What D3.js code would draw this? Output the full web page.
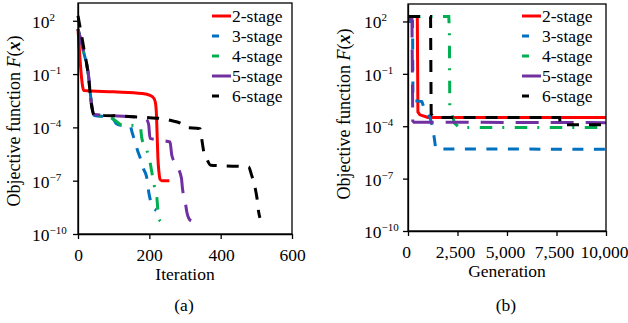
<!DOCTYPE html>
<html>
<head>
<meta charset="utf-8">
<script src="https://cdn.jsdelivr.net/npm/d3@7"></script>
<style>
  body { margin: 0; background: #fff; }
  svg { display: block; }
  svg text { font-family: "Liberation Serif", "Times New Roman", serif; }
</style>
</head>
<body>
<script>
// ---- data ----
const stageNames = ["2-stage", "3-stage", "4-stage", "5-stage", "6-stage"];

// (a) objective value vs iteration, [iteration, F(x)]
const iterStage2 = [[0, 35], [4, 2], [9, 0.1], [13, 0.02], [16, 1.2e-2], [100, 1e-2], [180, 8e-3], [202, 6.3e-3],
  [212, 4.5e-3], [217, 2.5e-3], [220, 5e-4], [222, 3e-5], [224, 2e-6], [227, 3e-7], [230, 1.2e-7], [235, 1e-7], [256, 1e-7]];
const iterStage3 = [[0, 34], [15, 2], [29, 0.1], [38, 2e-3], [46, 4.7e-4], [85, 3.8e-4], [100, 2.7e-4], [108, 1.6e-4],
  [120, 1.3e-4], [146, 1.25e-4], [152, 5e-5], [160, 1.5e-5], [167, 5e-6], [175, 1.8e-6], [183, 5e-7], [193, 1.4e-7],
  [198, 2.5e-8], [203, 8e-9], [210, 3e-9], [220, 2.2e-9]];
const iterStage4 = [[0, 34], [15, 2], [29, 0.1], [38, 2e-3], [46, 4.7e-4], [90, 3.6e-4], [110, 2e-4], [118, 1.5e-4],
  [150, 1.3e-4], [174, 1.25e-4], [179, 2.4e-5], [193, 5e-6], [202, 1.1e-6], [207, 3e-7], [214, 5e-8], [221, 1.2e-8],
  [226, 8e-10], [232, 5e-10], [238, 4.5e-10]];
const iterStage5 = [[0, 34], [15, 2], [29, 0.1], [38, 2e-3], [46, 5.4e-4], [100, 4.5e-4], [174, 3.6e-4], [192, 2.8e-4],
  [198, 1.5e-4], [202, 2.4e-5], [230, 1.9e-5], [258, 1.5e-5], [263, 2.7e-6], [275, 8e-7], [290, 1.4e-7], [293, 3.5e-8],
  [300, 8e-9], [305, 1.8e-9], [310, 8e-10], [317, 5.5e-10]];
const iterStage6 = [[0, 190], [15, 4], [29, 0.083], [38, 1.7e-3], [46, 4.7e-4], [100, 4.5e-4], [200, 3.5e-4], [230, 3.2e-4],
  [258, 2.5e-4], [290, 1.6e-4], [300, 1e-4], [342, 8.5e-5], [346, 3e-5], [352, 5e-6], [362, 1.5e-6], [372, 7.5e-7],
  [445, 6.5e-7], [478, 6e-7], [487, 2e-7], [496, 4.5e-8], [502, 1e-8], [506, 2e-9], [510, 8e-10]];

// (b) objective value vs generation, [generation, F(x)]
const genStage2 = [[0, 190], [470, 190], [500, 6.6e-4], [600, 4.5e-4], [900, 3.5e-4], [1000, 3.2e-4], [10000, 3.2e-4]];
const genStage3 = [[0, 100], [230, 100], [250, 3e-3], [700, 2.6e-3], [900, 6e-4], [1100, 3.5e-4], [1250, 8e-5],
  [1330, 2e-5], [1400, 5e-6], [10000, 4.8e-6]];
const genStage4 = [[0, 190], [2060, 190], [2090, 30], [2110, 1e-3], [2200, 5.7e-4], [2350, 1.5e-4], [2600, 8.5e-5],
  [10000, 8.5e-5]];
const genStage5 = [[0, 150], [200, 150], [240, 2e-4], [300, 1.7e-4], [10000, 1.6e-4]];
const genStage6 = [[0, 190], [1140, 190], [1170, 5e-4], [1300, 3.2e-4], [7650, 3.2e-4], [7700, 1.2e-4], [10000, 1.2e-4]];

const yTicks = [1e-10, 1e-7, 1e-4, 1e-1, 1e2];
const iterTicks = [0, 200, 400, 600];
const genTicks = [0, 2500, 5000, 7500, 10000];

// ---- styles ----
const colors = ["#ff0000", "#0070c0", "#00b050", "#7030a0", "#000000"];
const dashes = [null, "11,10.5", "12.5,10,2,10.5", "23,12", "12,10"];
const legendDashes = [null, "7,30", "7,30", "19,10", "7,30"];

const width = 628, height = 323;
const svg = d3.select("body").append("svg")
  .attr("width", width)
  .attr("height", height)
  .attr("viewBox", [0, 0, width, height]);

function drawPanel(p) {
  const xScale = d3.scaleLinear().domain(p.xDomain).range([p.left, p.right]);
  const yScale = d3.scaleLog().domain([1e-10, 1e3]).range([p.bottom, p.top]);
  const g = svg.append("g");

  // curves
  const line = d3.line()
    .x(d => xScale(d[0]))
    .y(d => yScale(d[1]))
    .curve(p.curve);
  p.series.forEach((s, i) => {
    g.append("path")
      .attr("d", line(s))
      .attr("fill", "none")
      .attr("stroke", colors[i])
      .attr("stroke-width", 3)
      .attr("stroke-dasharray", dashes[i]);
  });

  // frame
  g.append("rect")
    .attr("x", p.left).attr("y", p.top)
    .attr("width", p.right - p.left).attr("height", p.bottom - p.top)
    .attr("fill", "none").attr("stroke", "#000").attr("stroke-width", 1.3);

  // x axis
  const xAxis = d3.axisBottom(xScale).tickValues(p.xTicks).tickSize(5).tickSizeOuter(0).tickFormat(p.xFormat);
  const gx = g.append("g").attr("transform", `translate(0,${p.bottom})`).call(xAxis)
    .attr("font-family", null).attr("font-size", 17.5);
  gx.select(".domain").attr("stroke-width", 1.3);
  gx.selectAll(".tick line").attr("stroke-width", 1.3);
  gx.selectAll(".tick text")
    .attr("fill", "#000")
    .attr("y", 27).attr("dy", 0)
    .attr("dx", d => Math.round(xScale(d) + p.xLabelShift) - xScale(d));

  // y axis with 10^n labels (baseline snapped to whole pixels)
  const yAxis = d3.axisLeft(yScale).tickValues(yTicks).tickSize(5).tickSizeOuter(0).tickFormat("");
  const gy = g.append("g").attr("transform", `translate(${p.left},0)`).call(yAxis)
    .attr("font-family", null).attr("font-size", 17.5);
  gy.select(".domain").attr("stroke-width", 1.3);
  gy.selectAll(".tick line").attr("stroke-width", 1.3);
  gy.selectAll(".tick text").remove();
  gy.selectAll(".tick").append("text")
    .attr("x", p.yLabelX - p.left)
    .attr("y", d => Math.round(yScale(d) + 6) - yScale(d))
    .attr("text-anchor", "start")
    .attr("fill", "#000")
    .each(function (d) {
      const t = d3.select(this);
      t.append("tspan").text("10");
      t.append("tspan")
        .attr("font-size", 11)
        .attr("dy", -7)
        .text(String(Math.round(Math.log10(d))).replace("-", "\u2212"));
    });

  // axis titles
  g.append("text")
    .attr("x", Math.round((p.left + p.right) / 2)).attr("y", p.bottom + 46)
    .attr("text-anchor", "middle").attr("font-size", 17.5)
    .text(p.xTitle);
  const yt = g.append("text")
    .attr("transform", `translate(${p.yTitleX},${p.yTitleY}) rotate(-90)`)
    .attr("text-anchor", "middle").attr("font-size", 18);
  yt.append("tspan").text("Objective function ");
  yt.append("tspan").attr("font-style", "italic").text("F");
  yt.append("tspan").text("(");
  yt.append("tspan").attr("font-style", "italic").attr("font-weight", "bold").text("x");
  yt.append("tspan").text(")");

  g.append("text")
    .attr("x", Math.round((p.left + p.right) / 2 - 1.5)).attr("y", 311)
    .attr("text-anchor", "middle").attr("font-size", 17.5)
    .text(p.caption);

  // legend
  const lg = g.append("g").attr("transform", `translate(${p.legendX},16)`);
  stageNames.forEach((name, i) => {
    const row = lg.append("g").attr("transform", `translate(0,${i * 20})`);
    row.append("line")
      .attr("x1", 0).attr("x2", 19)
      .attr("stroke", colors[i]).attr("stroke-width", 3)
      .attr("stroke-dasharray", legendDashes[i]);
    row.append("text")
      .attr("x", 20).attr("y", 6)
      .attr("font-size", 17.5)
      .text(name);
  });
}

drawPanel({
  left: 78, right: 292, top: 3, bottom: 234,
  xDomain: [0, 600], xTicks: iterTicks, xFormat: d3.format("d"), xLabelShift: 0,
  series: [iterStage2, iterStage3, iterStage4, iterStage5, iterStage6],
  curve: d3.curveMonotoneX,
  yLabelX: 32, yTitleX: 20, yTitleY: 121,
  xTitle: "Iteration", caption: "(a)", legendX: 212
});

drawPanel({
  left: 408, right: 606, top: 4, bottom: 231,
  xDomain: [0, 10000], xTicks: genTicks, xFormat: d3.format(","), xLabelShift: -2.5,
  series: [genStage2, genStage3, genStage4, genStage5, genStage6],
  curve: d3.curveLinear,
  yLabelX: 364, yTitleX: 350, yTitleY: 114,
  xTitle: "Generation", caption: "(b)", legendX: 522
});
</script>
</body>
</html>
